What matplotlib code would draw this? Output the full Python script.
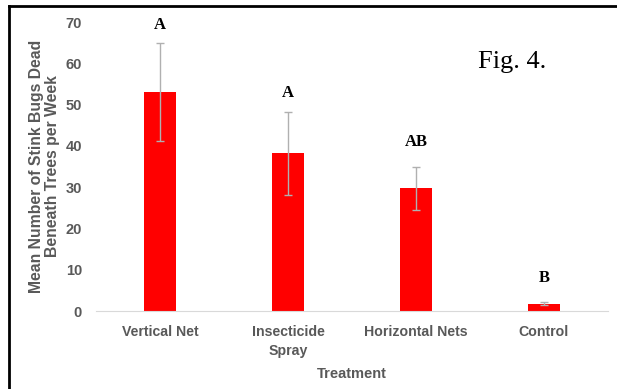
import matplotlib.pyplot as plt
from matplotlib.lines import Line2D

categories = ['Vertical Net', 'Insecticide\nSpray', 'Horizontal Nets', 'Control']
means = [53, 38.2, 29.7, 1.8]
errors = [11.8, 10, 5.2, 0.4]
letters = ['A', 'A', 'AB', 'B']
letter_y = [69.2, 52.9, 41, 8.0]

gray = '#595959'

fig = plt.figure(figsize=(6.17, 3.89), dpi=100)
ax = fig.add_axes([0.1556, 0.2005, 0.8298, 0.7429])

x = range(len(categories))
ax.bar(x, means, width=0.25, color='#ff0000', zorder=2)
ax.errorbar(x, means, yerr=errors, fmt='none', ecolor='#b0b0b0',
            elinewidth=1, capsize=3, capthick=1, zorder=3)

for i, (lab, ly) in enumerate(zip(letters, letter_y)):
    ax.text(i, ly, lab, ha='center', va='center', fontsize=12,
            fontweight='bold', family='Liberation Serif')

ax.set_xlim(-0.5, 3.5)
ax.set_ylim(0, 70)
ax.set_yticks(range(0, 71, 10))
ax.set_xticks(list(x))
ax.set_xticklabels(categories, linespacing=1.5)

for s in ['top', 'right', 'left']:
    ax.spines[s].set_visible(False)
ax.spines['bottom'].set_color('#d9d9d9')
ax.tick_params(axis='both', length=0, colors=gray, labelsize=10.5)
ax.tick_params(axis='x', pad=10, labelsize=10.2)
ax.tick_params(axis='y', pad=10)
for t in ax.get_xticklabels() + ax.get_yticklabels():
    t.set_family('Liberation Sans')
    t.set_fontweight('bold')

ax.set_xlabel('Treatment', fontsize=10.5, color=gray, fontweight='bold',
              family='Liberation Sans', labelpad=6)
ax.set_ylabel('Mean Number of Stink Bugs Dead\nBeneath Trees per Week',
              fontsize=11.3, color=gray, fontweight='bold',
              family='Liberation Sans', labelpad=4, linespacing=1.05)

fig.text(0.775, 0.825, 'Fig. 4.', fontsize=19, family='Liberation Serif')

# frame around the figure (left and top edges visible)
fig.add_artist(Line2D([9 / 617, 9 / 617], [0, 1 - 6 / 389], color='black',
                      lw=2, transform=fig.transFigure))
fig.add_artist(Line2D([9 / 617, 1], [1 - 6 / 389, 1 - 6 / 389], color='black',
                      lw=2, transform=fig.transFigure))

fig.savefig('out.png', dpi=100)
